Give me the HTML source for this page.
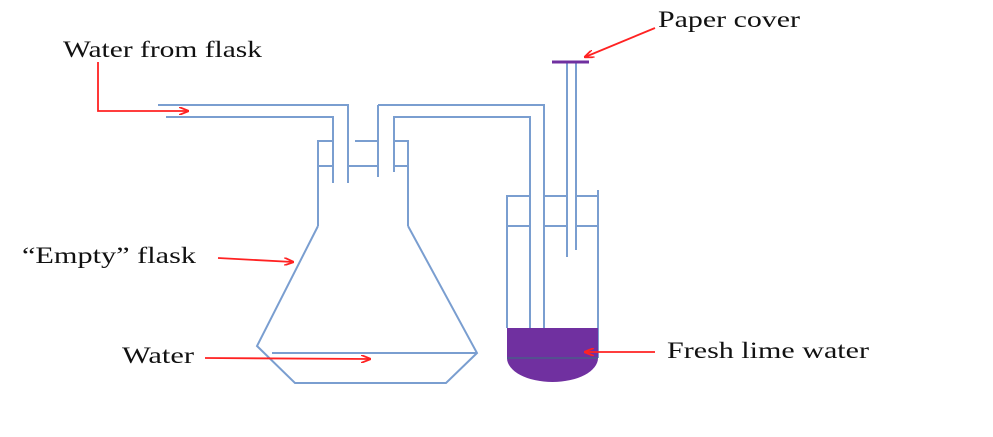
<!DOCTYPE html>
<html><head><meta charset="utf-8"><style>body{margin:0;background:#fff}svg{display:block}</style></head>
<body>
<svg width="993" height="437" xmlns="http://www.w3.org/2000/svg">
<defs><marker id="a" markerWidth="10" markerHeight="8" refX="9" refY="4" orient="auto" markerUnits="userSpaceOnUse"><path d="M0,0 L10,4 L0,8" fill="none" stroke="#f22" stroke-width="1.8"/></marker></defs>
<g fill="none" stroke="#7a9ed0" stroke-width="2">
<polyline points="158,105 348,105 348,183"/>
<polyline points="166,117 333,117 333,183"/>
<polyline points="318,226 318,141 333,141"/><line x1="318" y1="166" x2="333" y2="166"/>
<line x1="378" y1="105" x2="378" y2="177"/>
<line x1="355" y1="141" x2="378" y2="141"/><line x1="348" y1="166" x2="378" y2="166"/>
<polyline points="378,105 544,105 544,328"/>
<polyline points="394,172 394,117 530,117 530,328"/>
<polyline points="394,141 408,141 408,226"/><line x1="394" y1="166" x2="408" y2="166"/>
<polyline points="318,226 257,346 295,383 446,383 477,353 408,226"/>
<line x1="272" y1="353" x2="477" y2="353"/>
<polyline points="507,328 507,196 530,196"/><line x1="598" y1="190" x2="598" y2="358"/>
<line x1="544" y1="196" x2="567" y2="196"/><line x1="576" y1="196" x2="598" y2="196"/>
<line x1="507" y1="226" x2="530" y2="226"/><line x1="544" y1="226" x2="567" y2="226"/><line x1="576" y1="226" x2="598" y2="226"/>
<line x1="567" y1="62" x2="567" y2="257"/><line x1="576" y1="62" x2="576" y2="250"/>
</g>
<path d="M507,328 H598 V358 A45.5,24 0 0 1 507,358 Z" fill="#7030a0"/>
<line x1="507" y1="358" x2="598" y2="358" stroke="#4a5a8a" stroke-width="1.5"/>
<line x1="552" y1="62" x2="589" y2="62" stroke="#7030a0" stroke-width="3"/>
<g stroke="#f22" stroke-width="1.8" fill="none" marker-end="url(#a)">
<polyline points="98,62 98,111 188,111"/>
<line x1="218" y1="258" x2="293" y2="262"/>
<line x1="205" y1="358" x2="370" y2="359"/>
<line x1="655" y1="352" x2="585" y2="352"/>
<line x1="655" y1="28" x2="585" y2="57"/>
</g>
<g font-family="Liberation Serif, serif" font-size="23" fill="#111">
<text x="63" y="57" textLength="199" lengthAdjust="spacingAndGlyphs">Water from flask</text>
<text x="658" y="27" textLength="142" lengthAdjust="spacingAndGlyphs">Paper cover</text>
<text x="22" y="263" textLength="174" lengthAdjust="spacingAndGlyphs">“Empty” flask</text>
<text x="122" y="363" textLength="72" lengthAdjust="spacingAndGlyphs">Water</text>
<text x="667" y="358" textLength="202" lengthAdjust="spacingAndGlyphs">Fresh lime water</text>
</g>
</svg>
</body></html>
